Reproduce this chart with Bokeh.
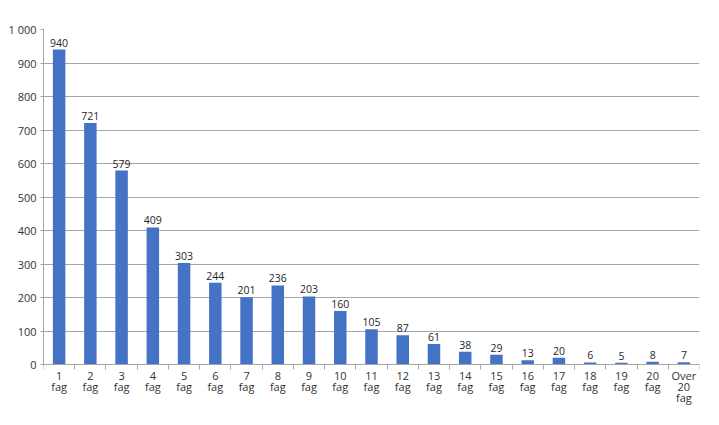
from bokeh.plotting import figure
from bokeh.models import Range1d, FixedTicker, ColumnDataSource
from bokeh.embed import file_html
from bokeh.resources import INLINE
from bokeh.core.properties import value

categories = ["1 fag", "2 fag", "3 fag", "4 fag", "5 fag", "6 fag", "7 fag", "8 fag",
              "9 fag", "10 fag", "11 fag", "12 fag", "13 fag", "14 fag", "15 fag",
              "16 fag", "17 fag", "18 fag", "19 fag", "20 fag", "Over 20 fag"]
counts = [940, 721, 579, 409, 303, 244, 201, 236, 203, 160, 105, 87, 61, 38, 29,
          13, 20, 6, 5, 8, 7]
y_ticks = [0, 100, 200, 300, 400, 500, 600, 700, 800, 900, 1000]
y_tick_labels = ["0", "100", "200", "300", "400", "500", "600", "700", "800", "900", "1 000"]

FONT = "Open Sans"
n = len(categories)
xs = list(range(1, n + 1))
labels_ml = [c.replace(" ", "\n") for c in categories]

src = ColumnDataSource(dict(x=xs, top=counts, lab=[str(v) for v in counts],
                            base=[0] * n, xl=labels_ml))

# frame: 0 -> 364px, 1000 -> 29px; extend below zero to hold category labels
px_per_unit = 335 / 1000
y_start = -(420 - 364) / px_per_unit

p = figure(width=719, height=425, output_backend="svg", toolbar_location=None,
           x_range=Range1d(0.5, n + 0.5), y_range=Range1d(y_start, 1000),
           min_border_left=43, min_border_right=20, min_border_top=29, min_border_bottom=5)
p.outline_line_color = None
p.background_fill_color = "white"
p.border_fill_color = "white"

p.vbar(x="x", top="top", width=0.4, bottom=0, source=src,
       fill_color="#4472c4", line_color=None)
p.text(x="x", y="top", text="lab", source=src, y_offset=-7,
       text_align="center", text_baseline="alphabetic",
       text_font=value(FONT), text_font_size="10.5px", text_color="#262626")
p.text(x="x", y="base", text="xl", source=src, y_offset=3,
       text_align="center", text_baseline="top", text_line_height=0.76,
       text_font=value(FONT), text_font_size="11px", text_color="#333333")

# x axis drawn at y=0, only boundary ticks
p.xaxis.fixed_location = 0
p.xaxis.ticker = FixedTicker(ticks=[], minor_ticks=[i + 0.5 for i in range(0, n + 1)])
p.xaxis.minor_tick_out = 5
p.xaxis.minor_tick_in = 0
p.xaxis.minor_tick_line_color = "#a6a6a6"
p.xaxis.axis_line_color = "#a6a6a6"
p.xaxis.major_label_text_font_size = "0px"
p.xaxis.major_tick_out = 0
p.xaxis.major_label_standoff = 0

# y axis
p.yaxis.bounds = (0, 1000)
p.yaxis.ticker = FixedTicker(ticks=y_ticks)
p.yaxis.major_label_overrides = {t: l for t, l in zip(y_ticks, y_tick_labels)}
p.yaxis.major_tick_out = 3
p.yaxis.major_tick_in = 0
p.yaxis.axis_line_color = "#a6a6a6"
p.yaxis.major_tick_line_color = "#a6a6a6"
p.yaxis.major_label_text_font = FONT
p.yaxis.major_label_text_font_size = "11px"
p.yaxis.major_label_text_color = "#333333"
p.yaxis.major_label_standoff = 4

p.xgrid.grid_line_color = None
p.ygrid.ticker = FixedTicker(ticks=y_ticks[1:])
p.ygrid.grid_line_color = "#a6a6a6"
p.ygrid.grid_line_width = 1

open("out.html", "w").write(file_html(p, INLINE))
